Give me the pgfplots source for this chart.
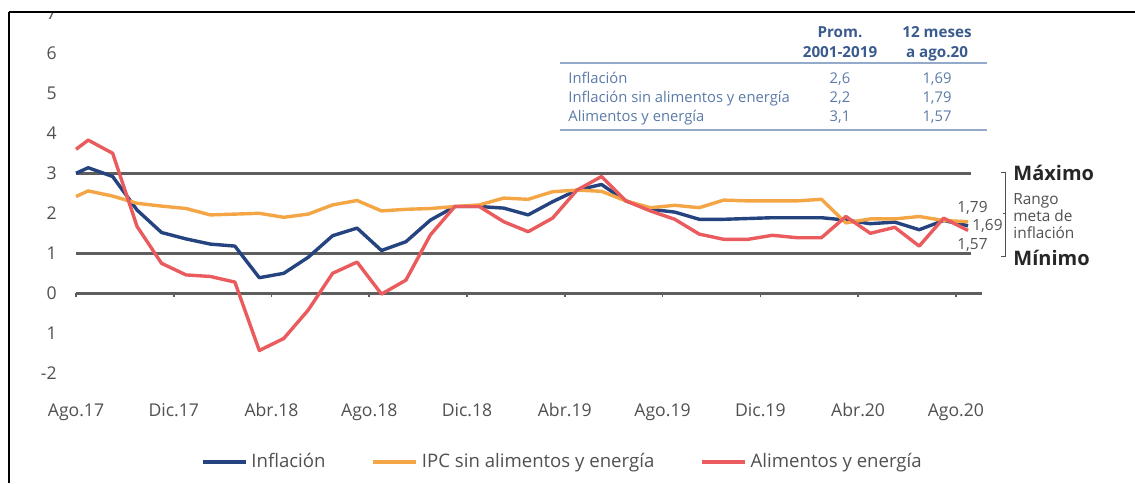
\documentclass[border=0pt]{standalone}
\usepackage{pgfplots}
\pgfplotsset{compat=1.18}
\usepackage{fontspec}
\setmainfont{Open Sans}

\definecolor{infl}{HTML}{24437F}
\definecolor{ipc}{HTML}{F4A647}
\definecolor{alim}{HTML}{E95B5D}
\definecolor{refline}{HTML}{5E5E5E}
\definecolor{ticktxt}{HTML}{505050}
\definecolor{tabhead}{HTML}{3A5B8E}
\definecolor{tabtxt}{HTML}{5B7AA8}
\definecolor{tabrule}{HTML}{93AACB}
\newcommand\fs[1]{\fontsize{#1}{#1}\selectfont}

\begin{document}
\begin{tikzpicture}
\begin{axis}[
  at={(0,0)}, anchor=south west,
  scale only axis, width=453pt, height=180pt,
  xmin=0, xmax=37.07, ymin=-2, ymax=7,
  clip=false,
  axis line style={draw=none},
  major tick length=0pt,
  xtick={0,4,...,36},
  xticklabels={Ago.17,Dic.17,Abr.18,Ago.18,Dic.18,Abr.19,Ago.19,Dic.19,Abr.20,Ago.20},
  ytick={-2,-1,...,7},
  yticklabels={-2,1,0,1,2,3,4,5,6,7},
  tick label style={font=\fs{8.8}, text=ticktxt},
  xticklabel style={anchor=base, inner sep=0pt, yshift=-21.4pt},
  yticklabel style={anchor=east, inner sep=0pt, xshift=-9.5pt},
  legend image code/.code={\draw[#1] (0pt,0pt) -- (21.5pt,0pt);},
  legend style={draw=none, fill=none, at={(rel axis cs:0.1380,-0.2464)}, anchor=west,
    inner sep=0pt, outer sep=0pt, font=\fs{9.3}, text=ticktxt, legend columns=3,
    /tikz/every odd column/.append style={column sep=0pt},
    /tikz/every even column/.append style={column sep=21pt}},
  no markers,
]
% reference lines (target range and zero line)
\addplot[refline, line width=1.8pt, forget plot] coordinates {(0,3) (36.6,3)};
\addplot[refline, line width=1.8pt, forget plot] coordinates {(0,1) (36.6,1)};
\addplot[refline, line width=1.4pt, forget plot] coordinates {(0,0) (37.07,0)};
\addplot[refline, line width=0.8pt, ycomb, forget plot] coordinates {
  (0,-0.1) (4,-0.1) (8,-0.1) (12,-0.1) (16,-0.1) (20,-0.1) (24,-0.1) (28,-0.1) (32,-0.1) (36,-0.1)};

\addplot[infl, line width=1.7pt, line join=round] coordinates {
  (0,3.00) (0.5,3.14) (1.5,2.92) (2.5,2.08) (3.5,1.52) (4.5,1.36) (5.5,1.23) (6.5,1.18)
  (7.5,0.39) (8.5,0.50) (9.5,0.90) (10.5,1.44) (11.5,1.63) (12.5,1.07) (13.5,1.29)
  (14.5,1.83) (15.5,2.17) (16.5,2.17) (17.5,2.13) (18.5,1.96) (19.5,2.29) (20.5,2.58)
  (21.5,2.72) (22.5,2.31) (23.5,2.10) (24.5,2.03) (25.5,1.85) (26.5,1.85) (27.5,1.87)
  (28.5,1.89) (29.5,1.89) (30.5,1.89) (31.5,1.83) (32.5,1.74) (33.5,1.78) (34.5,1.59)
  (35.5,1.82) (36.5,1.69)};
\addlegendentry{Inflación}
\addplot[ipc, line width=1.7pt, line join=round] coordinates {
  (0,2.42) (0.5,2.56) (1.5,2.43) (2.5,2.25) (3.5,2.18) (4.5,2.12) (5.5,1.96) (6.5,1.98)
  (7.5,2.00) (8.5,1.90) (9.5,1.98) (10.5,2.21) (11.5,2.32) (12.5,2.06) (13.5,2.10)
  (14.5,2.12) (15.5,2.17) (16.5,2.21) (17.5,2.38) (18.5,2.35) (19.5,2.54) (20.5,2.58)
  (21.5,2.55) (22.5,2.31) (23.5,2.14) (24.5,2.20) (25.5,2.14) (26.5,2.33) (27.5,2.31)
  (28.5,2.31) (29.5,2.31) (30.5,2.35) (31.5,1.76) (32.5,1.86) (33.5,1.86) (34.5,1.92)
  (35.5,1.82) (36.5,1.79)};
\addlegendentry{IPC sin alimentos y energía}
\addplot[alim, line width=1.7pt, line join=round] coordinates {
  (0,3.60) (0.5,3.83) (1.5,3.50) (2.5,1.67) (3.5,0.75) (4.5,0.46) (5.5,0.42) (6.5,0.28)
  (7.5,-1.43) (8.5,-1.13) (9.5,-0.42) (10.5,0.50) (11.5,0.78) (12.5,-0.02) (13.5,0.33)
  (14.5,1.46) (15.5,2.17) (16.5,2.17) (17.5,1.79) (18.5,1.54) (19.5,1.88) (20.5,2.58)
  (21.5,2.92) (22.5,2.31) (23.5,2.06) (24.5,1.85) (25.5,1.48) (26.5,1.35) (27.5,1.35)
  (28.5,1.45) (29.5,1.39) (30.5,1.39) (31.5,1.92) (32.5,1.50) (33.5,1.65) (34.5,1.18)
  (35.5,1.88) (36.5,1.57)};
\addlegendentry{Alimentos y energía}
\end{axis}

% annotations in reference pixel coordinates
\begin{scope}[shift={(-38pt,186.65pt)}, x=0.5pt, y=-0.5pt]
  \path[use as bounding box] (0,0) rectangle (1135,483);
  \fill[white] (0,0) rectangle (1135,12);
  \draw[black, line width=1.2pt] (9,12) -- (1135,12);
  \draw[black, line width=1.2pt] (9,12) -- (9,483);
  % table
  \begin{scope}[every node/.style={inner sep=0pt, anchor=base}]
    \node[font=\bfseries\fs{7.6}, text=tabhead] at (840,38) {Prom.};
    \node[font=\bfseries\fs{7.6}, text=tabhead] at (840,57) {2001-2019};
    \node[font=\bfseries\fs{7.6}, text=tabhead] at (937,38) {12 meses};
    \node[font=\bfseries\fs{7.6}, text=tabhead] at (937,57) {a ago.20};
    \node[font=\fs{7.4}, text=tabtxt, anchor=base west] at (568,83) {Inflación};
    \node[font=\fs{7.4}, text=tabtxt, anchor=base west] at (568,102) {Inflación sin alimentos y energía};
    \node[font=\fs{7.4}, text=tabtxt, anchor=base west] at (568,121) {Alimentos y energía};
    \node[font=\fs{7.4}, text=tabtxt] at (840,83) {2,6};
    \node[font=\fs{7.4}, text=tabtxt] at (840,102) {2,2};
    \node[font=\fs{7.4}, text=tabtxt] at (840,121) {3,1};
    \node[font=\fs{7.4}, text=tabtxt] at (937,83) {1,69};
    \node[font=\fs{7.4}, text=tabtxt] at (937,102) {1,79};
    \node[font=\fs{7.4}, text=tabtxt] at (937,121) {1,57};
    % right side
    \node[font=\bfseries\fs{10}, text=black!85, anchor=base west] at (1013,180) {Máximo};
    \node[font=\bfseries\fs{10}, text=black!85, anchor=base west] at (1013,265) {Mínimo};
    \node[font=\fs{7.7}, text=ticktxt, anchor=base west] at (1013,204) {Rango};
    \node[font=\fs{7.7}, text=ticktxt, anchor=base west] at (1013,221) {meta de};
    \node[font=\fs{7.7}, text=ticktxt, anchor=base west] at (1013,238) {inflación};
    \node[font=\fs{7.7}, text=ticktxt, anchor=base west] at (957,212) {1,79};
    \node[font=\fs{7.7}, text=ticktxt, anchor=base west] at (972,230) {1,69};
    \node[font=\fs{7.7}, text=ticktxt, anchor=base west] at (957,249) {1,57};
  \end{scope}
  \draw[tabrule, line width=0.8pt] (560,63) -- (987,63);
  \draw[tabrule, line width=0.8pt] (560,130) -- (987,130);
  \draw[ticktxt, line width=0.5pt] (1001,172) -- (1005,172) -- (1005,256) -- (1001,256);
  \draw[ticktxt, line width=0.5pt] (1003,213) -- (1005,213);
\end{scope}
\end{tikzpicture}
\end{document}
